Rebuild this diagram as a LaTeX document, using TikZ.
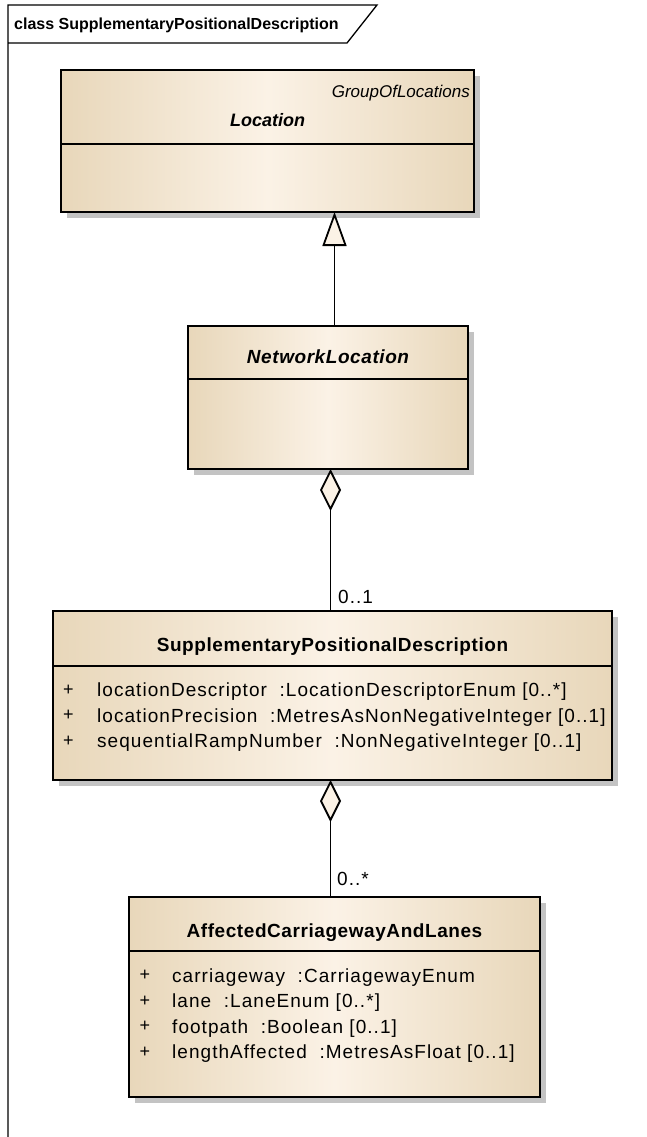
\documentclass[tikz,border=0pt]{standalone}
\usepackage{fontspec}
\setmainfont{Liberation Sans}
\newfontfamily\attrfont[LetterSpace=5.5]{Liberation Sans}
\newfontfamily\namefont[LetterSpace=3]{Liberation Sans}
\usetikzlibrary{arrows.meta,shadows,positioning}

\definecolor{umltan}{HTML}{E8D7BA}
\definecolor{umlcream}{HTML}{FBF2E6}
\definecolor{umlshadow}{HTML}{C3C3C3}

\tikzset{
    classbox/.style={draw=black, line width=2pt, anchor=north west, inner sep=0pt, outer sep=0pt,
        left color=umltan, right color=umltan, middle color=umlcream,
        drop shadow={shadow xshift=6pt, shadow yshift=-6pt, fill=umlshadow, opacity=1}},
    classname/.style={inner sep=0pt, text height=14pt, text depth=0pt, font=\namefont\fontsize{19pt}{22pt}\selectfont\bfseries},
    attr/.style={anchor=west, inner sep=0pt, text height=13.5pt, text depth=0pt, font=\attrfont\fontsize{19pt}{22pt}\selectfont},
    plus/.style={inner sep=0pt, font=\fontsize{18pt}{21pt}\selectfont},
    connector/.style={black, line width=1.8pt},
}

\begin{document}
\begin{tikzpicture}[x=1pt, y=-1pt]
        \useasboundingbox (0,0) rectangle (646,1137);

        % diagram frame
        \draw [black, line width=1.3pt] (8,1137) -- (8,5) -- (377,5) -- (347,43) -- (8,43);
        \node [anchor=west, inner sep=0pt, text height=11.5pt, text depth=0pt, font=\fontsize{16pt}{19pt}\selectfont\bfseries] (hdr) at (14,23.5) {class SupplementaryPositionalDescription};

        % Location
        \node [classbox, minimum width=413pt, minimum height=142pt] (loc) at (61,70) {};
        \draw [black, line width=2pt] (loc.west |- 0,144) -- (loc.east |- 0,144);
        \node [anchor=east, inner sep=0pt, text height=12.5pt, text depth=0pt, font=\fontsize{17pt}{20pt}\selectfont\itshape] (locpkg) at (470,91) {GroupOfLocations};
        \node [classname, font=\fontsize{18pt}{22pt}\selectfont\bfseries\itshape] (locname) at (loc.north |- 0,120) {Location};

        % NetworkLocation
        \node [classbox, minimum width=280pt, minimum height=143pt] (nl) at (188,326) {};
        \draw [black, line width=2pt] (nl.west |- 0,379) -- (nl.east |- 0,379);
        \node [classname, font=\namefont\fontsize{19pt}{22pt}\selectfont\bfseries\itshape] (nlname) at (nl.north |- 0,356) {NetworkLocation};

        % SupplementaryPositionalDescription
        \node [classbox, minimum width=559pt, minimum height=169pt] (spd) at (53,611) {};
        \draw [black, line width=2pt] (spd.west |- 0,666) -- (spd.east |- 0,666);
        \node [classname] (spdname) at (spd.north |- 0,644) {SupplementaryPositionalDescription};
        \foreach \a [count=\i] in {{locationDescriptor\ \ :LocationDescriptorEnum [0..*]},
                                    {locationPrecision\ \ :MetresAsNonNegativeInteger [0..1]},
                                    {sequentialRampNumber\ \ :NonNegativeInteger [0..1]}} {
            \node [plus] (spdp\i) at (68.5,{664.5+25.5*\i}) {+};
            \node [attr] (spda\i) at (97,{664.5+25.5*\i}) {\a};
        }

        % AffectedCarriagewayAndLanes
        \node [classbox, minimum width=411pt, minimum height=200pt] (acl) at (129,897) {};
        \draw [black, line width=2pt] (acl.west |- 0,951) -- (acl.east |- 0,951);
        \node [classname] (aclname) at (acl.north |- 0,930) {AffectedCarriagewayAndLanes};
        \foreach \a [count=\i] in {{carriageway\ \ :CarriagewayEnum},
                                    {lane\ \ :LaneEnum [0..*]},
                                    {footpath\ \ :Boolean [0..1]},
                                    {lengthAffected\ \ :MetresAsFloat [0..1]}} {
            \node [plus] (aclp\i) at (145,{950+25.5*\i}) {+};
            \node [attr] (acla\i) at (172,{950+25.5*\i}) {\a};
        }

        % connectors
        \coordinate (genx) at (334.5,0);
        \coordinate (aggx) at (330.5,0);
        \draw [connector, -{Triangle[length=34pt, width=24pt, fill=umlcream]}] (nl.north -| genx) -- (loc.south -| genx);
        \draw [connector, {Diamond[length=42pt, width=21pt, fill=umlcream]}-] (nl.south -| aggx) -- (spd.north -| aggx);
        \draw [connector, {Diamond[length=42pt, width=21pt, fill=umlcream]}-] (spd.south -| aggx) -- (acl.north -| aggx);
        \node [attr, text height=12.5pt] (mult1) at (338,597) {0..1};
        \node [attr, text height=12.5pt] (mult2) at (337,879) {0..*};
    \end{tikzpicture}
\end{document}
